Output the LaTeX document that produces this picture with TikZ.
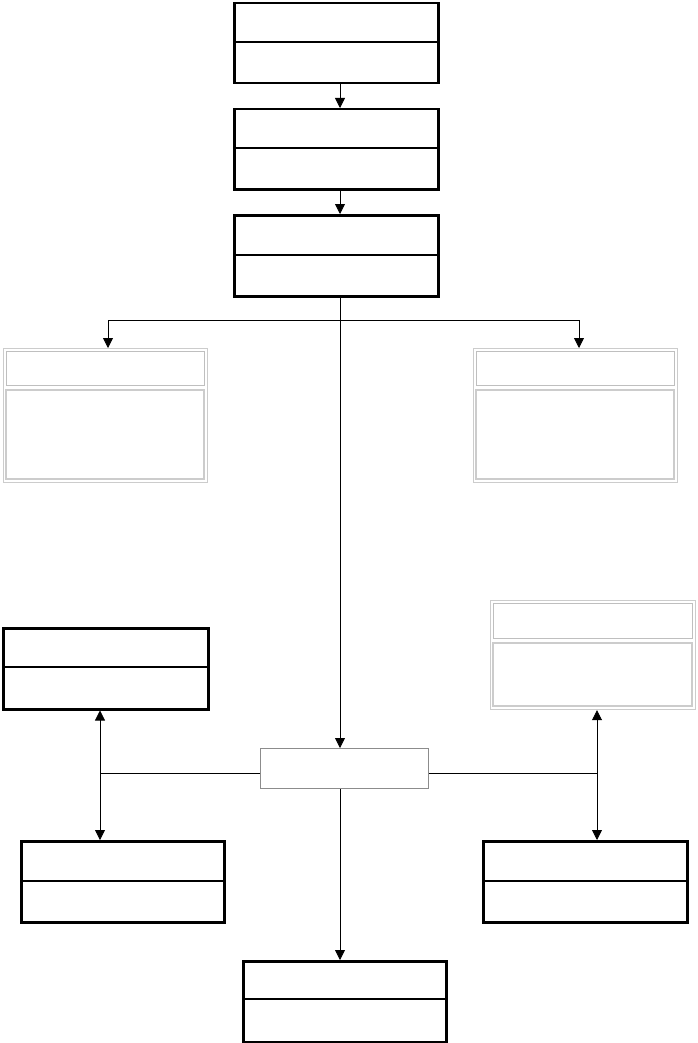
\documentclass[tikz,border=0pt]{standalone}
\usetikzlibrary{arrows.meta}
\begin{document}
\begin{tikzpicture}[x=1pt,y=-1pt,
  blk/.style={draw=black,line width=2.5pt},
  gry/.style={draw=black!25,line width=1pt},
  grin/.style={draw=black!20,line width=1.2pt},
  con/.style={draw=black,line width=0.8pt},
  tip/.style={-{Triangle[length=10pt,width=10pt]}},
  dtip/.style={{Triangle[length=10pt,width=10pt]}-{Triangle[length=10pt,width=10pt]}}]
\useasboundingbox (0,0) rectangle (697,1043);
\newcommand{\cls}[5]{%
  \node[blk,minimum width={#4-#2},minimum height={#5-#3},inner sep=0,anchor=north west] (#1) at (#2,#3) {};}
\cls{A}{233}{2}{437}{82}  \draw[blk] (233,42)--(437,42);
\cls{B}{233}{108}{437}{188} \draw[blk] (233,148)--(437,148);
\cls{C}{233}{214}{437}{295} \draw[blk] (233,255)--(437,255);
\cls{D}{2}{627}{207}{708} \draw[blk] (2,667)--(207,667);
\cls{E}{20}{840}{223}{921} \draw[blk] (20,881)--(223,881);
\cls{F}{482}{840}{686}{921} \draw[blk] (482,881)--(686,881);
\cls{G}{242}{960}{445}{1041} \draw[blk] (242,999)--(445,999);
\node[grin,minimum width=204,minimum height=134,inner sep=0,anchor=north west] (L) at (3,348) {};
\draw[gry] (6,351) rectangle (204,385); \draw[grin] (6,390) rectangle (204,479);
\node[grin,minimum width=204,minimum height=134,inner sep=0,anchor=north west] (R) at (473,348) {};
\draw[gry] (476,351) rectangle (674,385); \draw[grin] (476,390) rectangle (674,479);
\node[grin,minimum width=205,minimum height=109,inner sep=0,anchor=north west] (R2) at (490,600) {};
\draw[gry] (493,603) rectangle (692,638); \draw[grin] (493,643) rectangle (692,706);
\node[draw=black!45,line width=1pt,minimum width=168,minimum height=40,inner sep=0,anchor=north west] (M) at (260,748) {};
% connectors
\coordinate (cx) at (340,0); \coordinate (lx) at (100,0); \coordinate (rx) at (597,0);
\draw[con,tip] (cx|-A.south) -- (cx|-B.north);
\draw[con,tip] (cx|-B.south) -- (cx|-C.north);
\draw[con,tip] (cx|-C.south) -- (cx|-M.north);
\coordinate (j) at (340,320);
\draw[con,tip] (j) -| (108,348);
\draw[con,tip] (j) -| (579,348);
\draw[con,tip] (cx|-M.south) -- (cx|-G.north);
\coordinate (lj) at (100,773); \coordinate (rj) at (597,773);
\draw[con] (M.west|-lj) -- (lj);
\draw[con] (M.east|-rj) -- (rj);
\draw[con,dtip] (lx|-D.south) -- (lx|-E.north);
\draw[con,dtip] (rx|-R2.south) -- (rx|-F.north);
\end{tikzpicture}
\end{document}
